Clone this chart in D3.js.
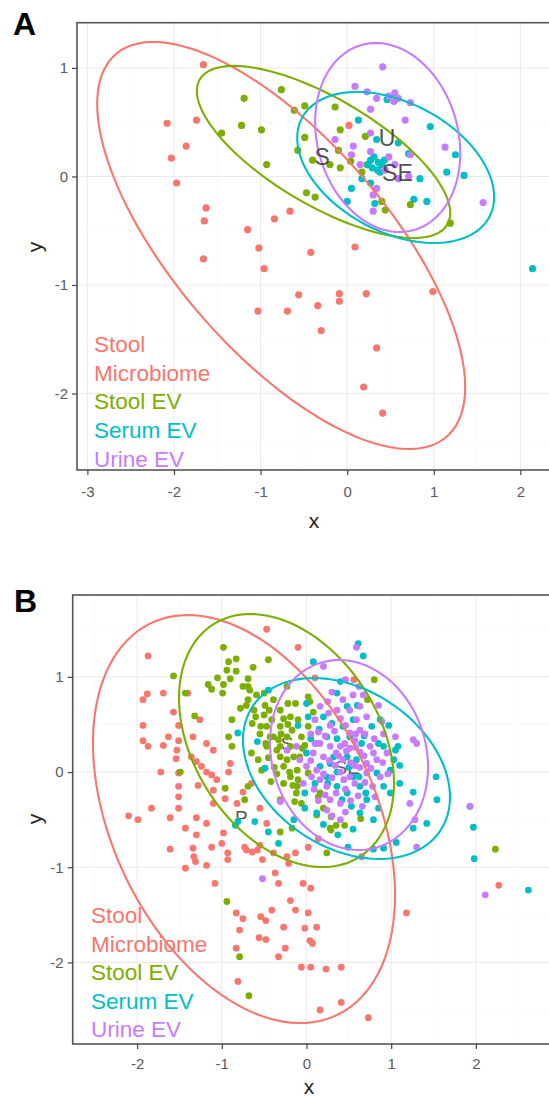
<!DOCTYPE html>
<html>
<head>
<meta charset="utf-8">
<script src="https://cdn.jsdelivr.net/npm/d3@7"></script>
<style>
  body { margin: 0; background: #fff; }
  text { font-family: "Liberation Sans", Arial, sans-serif; }
</style>
</head>
<body>
<div id="container"></div>
<script>
const width = 549, height = 1097;

const groups = ["Stool Microbiome", "Stool EV", "Serum EV", "Urine EV"];
const colors = ["#F8766D", "#7CAE00", "#00BFC4", "#C77CFF"];
const legendLines = ["Stool", "Microbiome", "Stool EV", "Serum EV", "Urine EV"];
const legendGroup = [0, 0, 1, 2, 3];

// ---- panel A ----
const aStoolMicro = [[-1.66,1.03],[-2.08,0.49],[-1.74,0.52],[-1.86,0.28],[-2.03,0.17],[-1.97,-0.06],[-1.63,-0.29],[-1.65,-0.41],[-1.15,-0.49],[-0.84,-0.39],[-0.66,-0.32],[-1.02,-0.66],[-1.66,-0.76],[-0.96,-0.85],[-0.42,-0.70],[0.02,0.47],[0.09,-0.65],[-1.03,-1.24],[-0.69,-1.24],[-0.56,-1.09],[-0.34,-1.19],[-0.30,-1.42],[-0.09,-1.08],[-0.09,-1.15],[0.22,-1.08],[0.99,-1.06],[0.34,-1.58],[0.19,-1.94],[0.41,-2.18]];
const aStoolEV = [[-0.76,0.80],[-1.19,0.72],[-0.61,0.61],[-0.49,0.65],[-1.45,0.40],[-1.22,0.47],[-0.99,0.43],[-0.49,0.36],[-0.57,0.24],[-0.93,0.11],[-0.40,0.15],[-0.47,-0.15],[-0.37,-0.19],[-0.14,0.64],[-0.08,0.43],[-0.20,0.11],[-0.10,0.24],[-0.08,0.08],[0.04,0.14],[0.17,0.04],[0.23,0.11],[0.21,0.37],[0.40,-0.23],[0.44,-0.31],[0.73,-0.26],[1.19,-0.43]];
const aSerumEV = [[0.13,0.52],[0.34,0.34],[0.59,0.31],[0.96,0.46],[1.25,0.20],[1.15,0.04],[1.35,0.01],[0.84,-0.02],[0.71,0.21],[0.05,-0.11],[0.17,-0.02],[0.27,-0.06],[0.00,-0.23],[0.32,-0.25],[0.77,-0.21],[0.92,-0.23],[0.46,0.71],[2.14,-0.85],[0.27,0.15],[0.31,0.18],[0.36,0.13],[0.40,0.11],[0.29,0.08],[0.35,0.06],[0.38,0.04],[0.24,0.11],[0.43,0.15]];
const aUrineEV = [[0.41,1.01],[0.09,0.83],[0.23,0.78],[0.34,0.72],[0.48,0.74],[0.55,0.77],[0.59,0.72],[0.54,0.69],[0.73,0.68],[0.27,0.62],[0.67,0.52],[-0.14,0.34],[0.07,0.28],[0.27,0.40],[0.27,0.23],[0.05,0.20],[0.48,0.18],[0.73,0.20],[1.13,0.27],[0.59,-0.02],[0.71,0.00],[0.34,-0.11],[0.30,-0.17],[0.30,-0.32],[1.57,-0.24],[0.15,0.11],[0.55,0.11],[0.44,0.06]];
// ellipse: centre x, centre y, half x-extent, half y-extent, y at rightmost point
const aEllipses = [[-0.762,-0.636,2.125,1.876,-1.94],[-0.273,0.226,1.463,0.793,-0.336],[0.560,0.083,1.137,0.696,-0.189],[0.468,0.359,0.838,0.871,0.217]];
const aLabels = [["S",-0.29,0.18],["U",0.46,0.35],["SE",0.58,0.03]];
const aXTicks = [-3,-2,-1,0,1,2];
const aYTicks = [-2,-1,0,1];

// ---- panel B ----
const bStoolMicro = [[-0.47,1.50],[-0.10,1.31],[-1.87,1.22],[-1.93,0.76],[-1.88,0.82],[-1.69,0.83],[-1.57,0.63],[-1.93,0.49],[-1.93,0.33],[-1.87,0.27],[-1.69,0.28],[-1.63,0.37],[-1.51,0.33],[-1.53,0.23],[-1.51,0.49],[-1.34,0.37],[-1.26,0.55],[-1.18,0.30],[-1.10,0.23],[-1.54,0.14],[-1.72,0.00],[-1.51,-0.01],[-1.36,0.16],[-1.30,0.11],[-1.24,0.06],[-1.18,0.00],[-1.12,-0.03],[-1.06,-0.08],[-0.90,0.09],[-0.92,0.00],[-1.28,-0.14],[-1.10,-0.19],[-1.51,-0.15],[-1.51,-0.26],[-1.83,-0.38],[-2.10,-0.46],[-1.99,-0.50],[-1.61,-0.48],[-1.51,-0.38],[-1.30,-0.48],[-1.18,-0.54],[-1.10,-0.33],[-0.96,-0.28],[-0.82,-0.33],[-0.75,-0.21],[-0.65,-0.12],[-0.55,-0.38],[-1.43,-0.59],[-1.30,-0.66],[-0.98,-0.64],[-1.00,-0.75],[-1.61,-0.81],[-1.34,-0.80],[-0.47,-0.54],[-0.55,-0.77],[-0.73,-0.79],[0.02,-0.79],[-1.40,0.83],[0.10,0.99],[0.56,0.97],[-1.33,-0.89],[-1.31,-0.94],[-1.18,-0.98],[-1.43,-1.01],[-1.12,-0.79],[-0.93,-0.85],[-0.93,-0.92],[-0.71,-0.82],[-0.64,-0.84],[-0.58,-0.82],[-0.52,-0.92],[-0.39,-0.85],[-0.23,-0.89],[-0.21,-0.96],[-0.13,-0.85],[0.14,-0.70],[-1.08,-1.17],[-0.37,-1.06],[-0.33,-1.17],[-0.04,-1.17],[0.05,-1.22],[-0.19,-1.35],[-0.13,-1.45],[0.02,-1.48],[-0.41,-1.45],[-0.83,-1.48],[-0.75,-1.54],[-0.79,-1.66],[-0.54,-1.52],[-0.48,-1.56],[-0.56,-1.74],[-0.48,-1.76],[-0.27,-1.63],[-0.02,-1.64],[0.04,-1.77],[0.07,-1.80],[0.12,-1.63],[-0.83,-1.85],[-0.25,-1.85],[-0.33,-1.94],[-0.06,-2.05],[0.05,-2.05],[0.23,-2.07],[0.41,-2.05],[-0.81,-2.20],[0.16,-2.50],[0.41,-2.42],[0.73,-2.58],[1.18,-1.48],[2.27,-1.19]];
const bStoolEV = [[-0.98,1.31],[-0.45,1.18],[-0.92,1.16],[-0.83,1.19],[-1.57,1.01],[-0.94,1.07],[-0.83,1.06],[-0.63,1.10],[-0.90,0.98],[-0.98,0.92],[-1.16,0.92],[-1.12,0.87],[-0.99,0.83],[-0.69,0.98],[-0.69,0.90],[-0.67,0.86],[-1.43,0.83],[-1.32,0.59],[-0.69,0.76],[-0.71,0.70],[-0.92,0.37],[-0.88,0.27],[-1.49,0.00],[-0.96,-0.17],[-0.73,-0.29],[0.80,0.97],[0.72,0.76],[0.02,0.79],[-0.23,0.90],[-0.39,0.76],[-0.50,0.83],[-0.44,0.65],[-0.60,0.58],[-0.64,0.51],[-0.54,0.48],[-0.41,0.55],[-0.31,0.48],[-0.19,0.58],[-0.17,0.44],[-0.06,0.37],[-0.39,0.37],[-0.48,0.30],[-0.31,0.27],[-0.19,0.27],[-0.31,0.16],[-0.23,0.13],[-0.15,0.16],[-0.27,0.06],[-0.11,0.02],[-0.19,-0.05],[-0.27,-0.12],[-0.11,-0.15],[-0.06,-0.33],[0.14,-0.26],[0.12,-0.45],[0.29,-0.47],[0.35,-0.56],[0.45,-0.56],[0.64,-0.49],[-0.17,-0.59],[-0.31,-0.63],[0.02,-0.01],[0.04,0.74],[0.08,0.63],[0.02,0.48],[-0.13,0.72],[-0.59,0.81],[-0.49,0.70],[-0.31,0.65],[-0.22,0.72],[-0.27,0.56],[-0.47,0.48],[-0.43,0.37],[-0.33,0.34],[-0.23,0.37],[-0.47,0.27],[-0.35,0.23],[-0.10,-0.08],[-0.16,-0.14],[-0.12,-0.22],[-0.31,-0.29],[-0.14,-0.31],[0.16,-0.22],[0.20,-0.38],[0.28,-0.59],[0.24,-0.85],[-0.88,0.55],[-0.69,-0.15],[0.29,-0.61],[-0.94,-1.36],[-0.79,-1.94],[-0.68,-2.35],[2.23,-0.81],[-0.57,0.13],[-0.53,0.02],[-0.08,0.16],[-0.02,0.28],[-0.62,0.65],[-0.55,0.40],[-0.45,0.15],[-0.38,0.05],[-0.30,0.40],[-0.22,0.50],[-0.10,0.55],[-0.05,0.25],[-0.35,-0.02],[-0.20,0.00],[-0.42,-0.10],[-0.50,0.60],[-0.78,0.67],[-0.75,0.90],[-1.05,0.99],[-0.65,0.20]];
const bSerumEV = [[0.61,1.35],[0.67,1.22],[0.08,1.16],[-0.45,0.86],[-0.81,0.41],[-0.58,0.32],[-0.49,0.04],[-0.10,0.49],[0.00,0.72],[0.02,0.58],[0.20,0.58],[0.36,0.83],[0.48,0.69],[0.77,0.48],[0.87,0.55],[0.91,0.27],[1.08,0.27],[1.03,0.13],[1.10,0.07],[0.99,0.02],[0.83,-0.01],[0.91,-0.15],[0.99,-0.22],[1.10,-0.12],[1.26,-0.21],[1.53,-0.05],[1.54,-0.29],[1.42,-0.54],[1.26,-0.59],[1.06,-0.74],[0.91,-0.80],[0.79,-0.81],[0.49,-0.79],[0.79,-0.50],[0.63,-0.43],[0.53,-0.36],[0.71,-0.29],[0.42,-0.29],[0.36,-0.15],[0.24,-0.05],[0.16,0.06],[0.28,0.09],[0.36,0.00],[0.55,-0.05],[0.63,-0.15],[0.48,-0.22],[0.32,0.16],[0.48,0.16],[0.59,0.13],[-0.02,-0.22],[-0.02,-0.38],[0.12,-0.43],[-0.45,-0.63],[-0.33,-0.75],[-0.61,-0.52],[-0.81,-0.52],[0.00,0.20],[0.12,0.30],[0.24,0.37],[0.36,0.35],[0.51,0.37],[0.65,0.30],[0.55,0.55],[0.43,0.48],[0.30,0.51],[1.93,-0.36],[1.97,-0.58],[0.97,0.49],[1.05,0.23],[0.37,-0.66],[1.98,-0.91],[2.62,-1.24],[-0.84,-0.56],[0.15,0.45],[0.05,0.35],[0.68,0.38],[0.85,0.30],[0.25,-0.12],[0.10,-0.12],[0.62,-0.05],[0.50,0.05],[0.70,-0.22],[0.85,-0.38],[0.55,-0.60],[0.20,-0.55],[-0.15,-0.50],[0.60,0.70],[0.40,0.95]];
const bUrineEV = [[0.59,1.31],[0.20,1.11],[0.46,0.97],[0.30,0.84],[0.43,0.76],[0.55,0.81],[0.67,0.81],[0.63,0.69],[0.51,0.65],[0.36,0.65],[0.26,0.62],[0.16,0.69],[0.10,0.55],[0.59,0.55],[0.71,0.58],[0.89,0.53],[1.05,0.37],[1.26,0.34],[0.63,0.44],[0.51,0.41],[0.16,0.30],[0.28,0.27],[0.40,0.27],[0.51,0.25],[0.63,0.21],[0.75,0.27],[0.08,0.20],[0.20,0.16],[0.43,0.13],[0.71,0.09],[0.83,0.13],[0.00,0.06],[0.12,0.02],[0.40,0.00],[0.51,-0.05],[0.71,-0.01],[0.87,-0.05],[-0.04,-0.12],[0.16,-0.08],[0.24,-0.15],[0.46,-0.18],[0.61,-0.25],[0.81,-0.26],[0.28,-0.29],[0.40,-0.33],[1.22,-0.33],[1.28,-0.50],[1.30,-0.79],[0.65,-0.89],[-0.31,-0.31],[-0.23,0.23],[-0.08,0.13],[-0.12,0.27],[0.06,-0.05],[0.40,-0.50],[0.24,-0.40],[1.93,-0.36],[2.11,-1.29],[-0.52,-1.12],[1.30,0.30],[0.95,0.20],[0.34,0.07],[0.57,0.07],[0.22,-0.24],[0.69,-0.11],[0.46,0.49],[0.28,0.49],[0.05,0.40],[0.14,0.42],[0.22,0.38],[0.33,0.43],[0.45,0.30],[0.57,0.33],[0.69,0.40],[0.80,0.35],[0.91,0.40],[0.10,0.30],[0.35,0.20],[0.47,0.22],[0.58,0.26],[0.68,0.17],[0.79,0.20],[0.90,0.10],[0.05,0.12],[0.27,0.12],[0.38,0.17],[0.52,0.10],[0.63,0.05],[0.76,0.04],[0.96,-0.02],[0.20,-0.02],[0.30,-0.06],[0.44,-0.08],[0.57,-0.12],[0.78,-0.15],[0.09,-0.18],[0.35,-0.22],[0.52,-0.30],[0.66,-0.36],[0.14,-0.30],[0.46,-0.42],[0.30,-0.46],[0.58,0.40],[0.40,0.56],[0.25,0.74],[0.62,0.90],[0.85,0.70]];
const bEllipses = [[-0.738,-0.494,1.783,2.143,-1.292],[-0.236,0.331,1.269,1.329,-0.116],[0.472,0.037,1.222,0.95,-0.263],[0.502,0.179,0.933,0.998,0.053]];
const bLabels = [["S",-0.23,0.30],["P",-0.77,-0.48],["SE",0.48,0.05]];
const bXTicks = [-2,-1,0,1,2];
const bYTicks = [-2,-1,0,1];

const svg = d3.select("div#container")
    .append("svg")
    .attr("width", width)
    .attr("height", height)
    .attr("viewBox", [0, 0, width, height]);

function ellipsePath(e) {
    const [cx, cy, ax, ay, yr] = e;
    const phi = Math.acos((yr - cy) / ay);
    return d3.range(0, 361, 3).map(d => {
        const t = d * Math.PI / 180;
        return [cx + ax * Math.cos(t), cy + ay * Math.cos(t - phi)];
    });
}

function panel(p) {
    const x = d3.scaleLinear().domain(p.xDomain).range([p.left, p.right]);
    const y = d3.scaleLinear().domain(p.yDomain).range([p.bottom, p.top]);
    const g = svg.append("g");
    const id = "clip" + p.letter;

    g.append("clipPath").attr("id", id)
        .append("rect")
        .attr("x", p.left).attr("y", p.top)
        .attr("width", p.right - p.left).attr("height", p.bottom - p.top);

    // grid
    const minorX = d3.range(Math.ceil(p.xDomain[0] * 2), Math.floor(p.xDomain[1] * 2) + 1).map(d => d / 2);
    const minorY = d3.range(Math.ceil(p.yDomain[0] * 2), Math.floor(p.yDomain[1] * 2) + 1).map(d => d / 2);
    g.selectAll(".gx").data(minorX).join("line")
        .attr("x1", d => x(d)).attr("x2", d => x(d))
        .attr("y1", p.top).attr("y2", p.bottom)
        .attr("stroke", d => Number.isInteger(d) ? "#ebebeb" : "#f5f5f5")
        .attr("stroke-width", d => Number.isInteger(d) ? 1.1 : 0.6);
    g.selectAll(".gy").data(minorY).join("line")
        .attr("y1", d => y(d)).attr("y2", d => y(d))
        .attr("x1", p.left).attr("x2", p.right)
        .attr("stroke", d => Number.isInteger(d) ? "#ebebeb" : "#f5f5f5")
        .attr("stroke-width", d => Number.isInteger(d) ? 1.1 : 0.6);

    const inner = g.append("g").attr("clip-path", `url(#${id})`);

    const drawLabels = () => inner.selectAll(".lab").data(p.labels).join("text")
        .attr("class", "lab")
        .attr("x", d => x(d[1])).attr("y", d => y(d[2]))
        .attr("text-anchor", "middle")
        .attr("dominant-baseline", "central")
        .attr("font-size", p.labelSize)
        .attr("fill", "#333")
        .attr("fill-opacity", 0.85)
        .text(d => d[0]);

    if (p.labelsBelow) drawLabels();

    p.series.forEach((s, i) => {
        inner.append("g").selectAll("circle").data(s).join("circle")
            .attr("cx", d => x(d[0])).attr("cy", d => y(d[1]))
            .attr("r", p.r)
            .attr("fill", colors[i]);
    });

    const line = d3.line().x(d => x(d[0])).y(d => y(d[1]));
    inner.selectAll(".ell").data(p.ellipses).join("path")
        .attr("d", d => line(ellipsePath(d)))
        .attr("fill", "none")
        .attr("stroke", (d, i) => colors[i])
        .attr("stroke-width", 2.1);

    if (!p.labelsBelow) drawLabels();

    // border
    g.append("rect")
        .attr("x", p.left).attr("y", p.top)
        .attr("width", p.right - p.left).attr("height", p.bottom - p.top)
        .attr("fill", "none").attr("stroke", "#555").attr("stroke-width", 1.6);

    // axes
    const xa = g.append("g").attr("transform", `translate(0,${p.bottom})`)
        .call(d3.axisBottom(x).tickValues(p.xTicks).tickSize(5).tickPadding(p.xPad).tickFormat(d3.format("d")));
    const ya = g.append("g").attr("transform", `translate(${p.left},0)`)
        .call(d3.axisLeft(y).tickValues(p.yTicks).tickSize(5).tickPadding(4).tickFormat(d3.format("d")));
    [xa, ya].forEach(a => {
        a.select(".domain").remove();
        a.selectAll(".tick line").attr("stroke", "#444").attr("stroke-width", 1.2);
        a.selectAll(".tick text").attr("fill", "#5a5a5a").attr("font-size", 15)
            .attr("font-family", "Liberation Sans, Arial, sans-serif")
            .text(d => d < 0 ? "-" + Math.abs(d) : d);
    });

    svg.append("text").attr("x", p.xTitle[0]).attr("y", p.xTitle[1])
        .attr("text-anchor", "middle").attr("font-size", 21).attr("fill", "#222").text("x");
    svg.append("text")
        .attr("transform", `translate(${p.yTitle[0]},${p.yTitle[1]}) rotate(-90)`)
        .attr("text-anchor", "middle").attr("font-size", 21).attr("fill", "#222").text("y");

    svg.append("text").attr("x", p.letterPos[0]).attr("y", p.letterPos[1])
        .attr("font-size", 32).attr("font-weight", "bold").attr("fill", "#000").text(p.letter);

    svg.append("g").selectAll("text").data(legendLines).join("text")
        .attr("x", p.legend[0])
        .attr("y", (d, i) => p.legend[1] + i * p.legend[2])
        .attr("font-size", 22.5)
        .attr("fill", (d, i) => colors[legendGroup[i]])
        .text(d => d);
}

panel({
    letter: "A", letterPos: [13, 35],
    left: 77, right: 555, top: 22.7, bottom: 470,
    xDomain: [-3.12, 2.40], yDomain: [-2.705, 1.417],
    series: [aStoolMicro, aStoolEV, aSerumEV, aUrineEV],
    ellipses: aEllipses, labels: aLabels, labelSize: 23, labelsBelow: false,
    xTicks: aXTicks, yTicks: aYTicks, xPad: 11, r: 3.6,
    xTitle: [314, 528], yTitle: [42, 247],
    legend: [94, 352, 28.7]
});

panel({
    letter: "B", letterPos: [14, 612],
    left: 72.7, right: 553, top: 595, bottom: 1044,
    xDomain: [-2.76, 2.91], yDomain: [-2.857, 1.86],
    series: [bStoolMicro, bStoolEV, bSerumEV, bUrineEV],
    ellipses: bEllipses, labels: bLabels, labelSize: 19, labelsBelow: true,
    xTicks: bXTicks, yTicks: bYTicks, xPad: 9, r: 3.4,
    xTitle: [309, 1094], yTitle: [42, 819],
    legend: [91, 923, 28.5]
});
</script>
</body>
</html>
